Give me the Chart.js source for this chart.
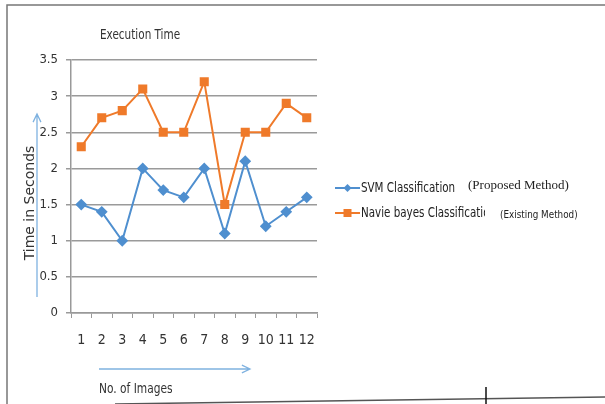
<!DOCTYPE html>
<html>
<head>
<meta charset="utf-8">
<script src="https://cdn.jsdelivr.net/npm/chart.js@4"></script>
<style>
  html, body { margin: 0; padding: 0; background: #fff; }
  #wrap { position: relative; width: 605px; height: 404px; }
</style>
</head>
<body>
<div id="wrap"><canvas id="chart" width="605" height="404"></canvas></div>
<script>
// values
const images = ['1', '2', '3', '4', '5', '6', '7', '8', '9', '10', '11', '12'];
const svmTimes = [1.5, 1.4, 1.0, 2.0, 1.7, 1.6, 2.0, 1.1, 2.1, 1.2, 1.4, 1.6];
const bayesTimes = [2.3, 2.7, 2.8, 3.1, 2.5, 2.5, 3.2, 1.5, 2.5, 2.5, 2.9, 2.7];
const seriesNames = ['SVM Classification', 'Navie bayes Classification'];
const seriesNotes = ['(Proposed Method)', '(Existing Method)'];

const FONT = "'DejaVu Sans Condensed', 'Liberation Sans', sans-serif";
const BLUE = '#4f8fcf';
const ORANGE = '#ef7a2a';
const ARROW = '#7fb2e0';

function arrow(ctx, x1, y1, x2, y2) {
    const a = Math.atan2(y2 - y1, x2 - x1);
    ctx.beginPath();
    ctx.moveTo(x1, y1);
    ctx.lineTo(x2, y2);
    ctx.moveTo(x2 - 9 * Math.cos(a - 0.45), y2 - 9 * Math.sin(a - 0.45));
    ctx.lineTo(x2, y2);
    ctx.lineTo(x2 - 9 * Math.cos(a + 0.45), y2 - 9 * Math.sin(a + 0.45));
    ctx.stroke();
}

// squeeze text horizontally so it looks like the narrow original font
function narrowText(ctx, text, x, y, sx) {
    ctx.save();
    ctx.translate(x, y);
    ctx.scale(sx, 1);
    ctx.fillText(text, 0, 0);
    ctx.restore();
}

// frame, titles, arrows and legend drawn around the plot
const decor = {
    id: 'decor',
    afterDraw(chart) {
        const ctx = chart.ctx;
        ctx.save();

        // page frame
        ctx.strokeStyle = '#777';
        ctx.lineWidth = 1.5;
        ctx.beginPath();
        ctx.moveTo(7, 404);
        ctx.lineTo(7, 5);
        ctx.lineTo(605, 5);
        ctx.stroke();
        ctx.strokeStyle = '#555';
        ctx.beginPath();
        ctx.moveTo(115, 404);
        ctx.lineTo(605, 397);
        ctx.stroke();
        ctx.strokeStyle = '#111';
        ctx.beginPath();
        ctx.moveTo(486, 387);
        ctx.lineTo(486, 404);
        ctx.stroke();

        // title
        ctx.fillStyle = '#333';
        ctx.font = '14px ' + FONT;
        ctx.textBaseline = 'middle';
        ctx.textAlign = 'left';
        narrowText(ctx, 'Execution Time', 100, 35, 0.83);

        // axis titles
        ctx.font = '14px DejaVu Sans, sans-serif';
        ctx.save();
        ctx.translate(30, 203);
        ctx.rotate(-Math.PI / 2);
        ctx.textAlign = 'center';
        ctx.fillText('Time in Seconds', 0, 0);
        ctx.restore();
        ctx.font = '14px ' + FONT;
        narrowText(ctx, 'No. of Images', 99, 389, 0.845);

        // arrows
        ctx.strokeStyle = ARROW;
        ctx.lineWidth = 1.3;
        arrow(ctx, 37, 297, 37, 114);
        arrow(ctx, 99, 369, 250, 369);

        // legend
        const rows = [188, 213];
        chart.data.datasets.forEach((ds, i) => {
            const y = rows[i];
            ctx.strokeStyle = ds.borderColor;
            ctx.fillStyle = ds.backgroundColor;
            ctx.lineWidth = 2;
            ctx.beginPath();
            ctx.moveTo(335, y);
            ctx.lineTo(360, y);
            ctx.stroke();
            if (i === 0) {
                ctx.beginPath();
                ctx.moveTo(347.5, y - 4);
                ctx.lineTo(351.5, y);
                ctx.lineTo(347.5, y + 4);
                ctx.lineTo(343.5, y);
                ctx.closePath();
                ctx.fill();
            } else {
                ctx.fillRect(343.5, y - 4, 8, 8);
            }
            ctx.fillStyle = '#222';
            ctx.font = '14px ' + FONT;
            ctx.textAlign = 'left';
            ctx.save();
            ctx.beginPath();
            ctx.rect(360, y - 12, 125, 24);
            ctx.clip();
            narrowText(ctx, ds.label, 361, y, 0.82);
            ctx.restore();
        });
        ctx.fillStyle = '#222';
        ctx.font = '13px Liberation Serif, serif';
        ctx.fillText(seriesNotes[0], 468, 186);
        ctx.font = '11px ' + FONT;
        narrowText(ctx, seriesNotes[1], 500, 215, 0.89);

        ctx.restore();
    }
};

new Chart(document.getElementById('chart'), {
    type: 'line',
    data: {
        labels: images,
        datasets: [{
            label: seriesNames[0],
            data: svmTimes,
            borderColor: BLUE,
            backgroundColor: BLUE,
            borderWidth: 2,
            pointStyle: 'rectRot',
            pointRadius: 4.5,
            pointHoverRadius: 4.5,
            tension: 0,
        }, {
            label: seriesNames[1],
            data: bayesTimes,
            borderColor: ORANGE,
            backgroundColor: ORANGE,
            borderWidth: 2,
            pointStyle: 'rect',
            pointRadius: 5,
            pointHoverRadius: 5,
            tension: 0,
        }],
    },
    options: {
        responsive: false,
        animation: false,
        devicePixelRatio: 1,
        layout: { padding: { left: 0, right: 288, top: 60, bottom: 0 } },
        plugins: {
            legend: { display: false },
            tooltip: { enabled: false },
        },
        scales: {
            x: {
                offset: true,
                afterFit: scale => { scale.height = 91; },
                grid: {
                    offset: true,
                    drawOnChartArea: false,
                    drawTicks: true,
                    tickLength: 5,
                    color: '#999',
                },
                border: { color: '#999', width: 1.5 },
                ticks: {
                    padding: 14,
                    maxRotation: 0,
                    autoSkip: false,
                    color: '#333',
                    font: { family: FONT, size: 14 },
                },
            },
            y: {
                min: 0,
                max: 3.5,
                afterFit: scale => { scale.width = 71; },
                grid: {
                    color: '#9a9a9a',
                    lineWidth: 1.5,
                    tickLength: 5,
                },
                border: { color: '#999', width: 1.5 },
                ticks: {
                    stepSize: 0.5,
                    padding: 8,
                    color: '#333',
                    font: { family: FONT, size: 13 },
                    callback: v => String(v),
                },
            },
        },
    },
    plugins: [decor],
});
</script>
</body>
</html>
